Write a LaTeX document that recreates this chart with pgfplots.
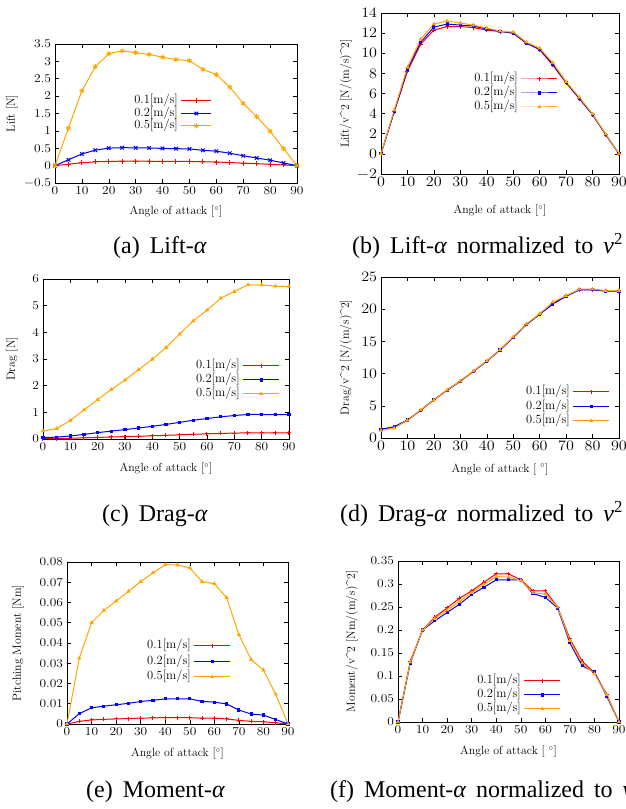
\documentclass[border=0pt]{standalone}
\usepackage{fontspec}
\usepackage{pgfplots}
\usepackage{pgfplotstable}
\pgfplotsset{compat=1.18}
\newfontfamily\capfont{Liberation Serif}
\newcommand\subcap[1]{\capfont\fontsize{24}{28}\selectfont\spaceskip=10pt\relax #1}

% angle, 0.1 m/s, 0.2 m/s, 0.5 m/s
\pgfplotstableread{
a r b o
0 0 0 0
5 0.042 0.168 1.08
10 0.082 0.336 2.15
15 0.109 0.444 2.85
20 0.123 0.504 3.22
25 0.127 0.516 3.30
30 0.127 0.512 3.25
35 0.126 0.508 3.20
40 0.123 0.496 3.12
45 0.122 0.488 3.05
50 0.120 0.480 3.02
55 0.110 0.440 2.77
60 0.104 0.416 2.62
65 0.088 0.356 2.26
70 0.071 0.284 1.79
75 0.055 0.220 1.41
80 0.039 0.156 0.99
85 0.019 0.076 0.49
90 0 0 0
}\lifttab

\pgfplotstableread{
a r b o
0 0 0 0
5 4.2 4.2 4.35
10 8.2 8.4 8.6
15 10.9 11.1 11.4
20 12.3 12.6 12.9
25 12.65 12.9 13.2
30 12.65 12.8 13.0
35 12.55 12.7 12.8
40 12.3 12.4 12.5
45 12.15 12.2 12.2
50 12.0 12.0 12.1
55 11.0 11.0 11.1
60 10.35 10.4 10.5
65 8.8 8.9 9.05
70 7.05 7.1 7.17
75 5.5 5.5 5.62
80 3.9 3.9 3.97
85 1.9 1.9 1.96
90 0 0 0
}\liftnorm

\pgfplotstableread{
a r b o
0 0.013 0.054 0.30
5 0.017 0.070 0.39
10 0.028 0.112 0.69
15 0.043 0.172 1.09
20 0.059 0.238 1.48
25 0.075 0.296 1.86
30 0.089 0.352 2.21
35 0.104 0.414 2.60
40 0.120 0.476 2.99
45 0.137 0.546 3.43
50 0.157 0.624 3.93
55 0.177 0.704 4.43
60 0.193 0.768 4.83
65 0.209 0.832 5.28
70 0.221 0.880 5.53
75 0.231 0.920 5.78
80 0.231 0.920 5.78
85 0.229 0.912 5.73
90 0.229 0.912 5.72
}\dragtab

\pgfplotstableread{
a r b o
0 1.3 1.35 1.19
5 1.65 1.75 1.55
10 2.75 2.8 2.74
15 4.3 4.3 4.35
20 5.9 5.95 5.9
25 7.45 7.4 7.45
30 8.85 8.8 8.85
35 10.4 10.35 10.4
40 11.95 11.9 11.96
45 13.7 13.65 13.7
50 15.65 15.6 15.7
55 17.65 17.6 17.7
60 19.25 19.2 19.3
65 20.9 20.8 21.1
70 22.05 22.0 22.1
75 23.05 23.0 23.1
80 23.05 23.0 23.1
85 22.85 22.8 22.9
90 22.85 22.8 22.9
}\dragnorm

\pgfplotstableread{
a r b o
0 0 0 0
5 0.0013 0.0051 0.0325
10 0.0020 0.0080 0.0500
15 0.0023 0.0088 0.0561
20 0.0025 0.0095 0.0607
25 0.0027 0.0102 0.0655
30 0.0029 0.0111 0.0703
35 0.0030 0.0117 0.0746
40 0.0032 0.0124 0.0787
45 0.0032 0.0124 0.0785
50 0.0031 0.0124 0.0771
55 0.0029 0.0112 0.0703
60 0.0029 0.0108 0.0693
65 0.0025 0.0099 0.0624
70 0.0018 0.0069 0.0441
75 0.0013 0.0049 0.0318
80 0.0011 0.0044 0.0266
85 0.0006 0.0022 0.0147
90 0 0 0
}\momtab

\pgfplotstableread{
a r b o
0 0 0 0
5 0.132 0.128 0.130
10 0.200 0.200 0.200
15 0.228 0.220 0.225
20 0.248 0.238 0.243
25 0.269 0.256 0.262
30 0.285 0.277 0.281
35 0.304 0.293 0.299
40 0.322 0.309 0.316
45 0.322 0.309 0.315
50 0.309 0.309 0.308
55 0.285 0.279 0.281
60 0.285 0.271 0.278
65 0.250 0.248 0.250
70 0.181 0.172 0.177
75 0.132 0.122 0.128
80 0.107 0.109 0.105
85 0.060 0.056 0.059
90 0 0 0
}\momnorm

\definecolor{gporange}{RGB}{255,165,0}

\tikzset{
  plotR/.style={color=red, mark=+, mark size=2pt},
  plotB/.style={color=blue, mark=square*, mark size=1.1pt},
  plotO/.style={color=gporange, mark=triangle*, mark size=1.5pt},
}

\pgfplotsset{
  panel/.style={
    scale only axis, anchor=south west,
    xmin=0, xmax=90, xtick={0,10,...,90},
    tick align=inside, major tick length=4pt,
    axis line style={line width=0.7pt},
    every tick/.style={black, line width=0.5pt},
    ticklabel style={font=\fontsize{13}{15}\selectfont, xscale=1.12},
    label style={font=\fontsize{11.8}{14}\selectfont},
    xlabel={Angle of attack [$^\circ$]},
    legend cell align=right, legend plot pos=right,
    legend style={draw=none, fill=none, anchor=north east,
      font=\fontsize{12.5}{14}\selectfont, inner sep=0pt, column sep=3pt,
      nodes={inner sep=0pt, text height=8.5pt, text depth=3pt}},
    legend image code/.code={\draw[mark repeat=2,mark phase=2]
      plot coordinates {(0pt,0pt) (18pt,0pt) (36pt,0pt)};},
    every axis plot/.append style={line width=1pt},
  },
  xlab/.style={xlabel style={at={(axis description cs:0.5,#1)}, anchor=center}},
  ylab/.style={ylabel style={at={(axis description cs:#1,0.5)}, anchor=center}},
}

\begin{document}
\begin{tikzpicture}
\path[use as bounding box] (0pt,0pt) rectangle (626pt,809pt);
\clip (0pt,0pt) rectangle (626pt,809pt);

% (a) Lift
\begin{axis}[panel, at={(55pt,626pt)}, width=242pt, height=139pt,
  ymin=-0.5, ymax=3.5, ytick={-0.5,0,...,3.5},
  ylabel={Lift [N]}, xlab=-0.209, ylab=-0.178,
  legend style={at={(0.649,0.633)}, row sep=1pt},
  legend image code/.code={\draw[mark repeat=2,mark phase=2]
      plot coordinates {(0pt,0pt) (15pt,0pt) (30pt,0pt)};}]
\addplot[color=red, mark=+, mark size=2.5pt] table[x=a,y=r] {\lifttab};
\addlegendentry{0.1[m/s]}
\addplot[color=blue, mark=x, mark size=2.5pt] table[x=a,y=b] {\lifttab};
\addlegendentry{0.2[m/s]}
\addplot[color=gporange, mark=asterisk, mark size=2.5pt] table[x=a,y=o] {\lifttab};
\addlegendentry{0.5[m/s]}
\end{axis}

% (b) Lift normalized
\begin{axis}[panel, at={(381pt,635pt)}, width=238pt, height=161pt,
  ymin=-2, ymax=14, ytick={-2,0,...,14},
  ticklabel style={font=\fontsize{14}{16}\selectfont},
  ylabel={Lift/v\textasciicircum 2 [N/(m/s)\textasciicircum 2]}, xlab=-0.230, ylab=-0.147,
  legend style={at={(0.744,0.627)}, row sep=2.5pt}]
\addplot[plotR] table[x=a,y=r] {\liftnorm};
\addlegendentry{0.1[m/s]}
\addplot[plotB] table[x=a,y=b] {\liftnorm};
\addlegendentry{0.2[m/s]}
\addplot[plotO] table[x=a,y=o] {\liftnorm};
\addlegendentry{0.5[m/s]}
\end{axis}

% (c) Drag
\begin{axis}[panel, at={(43pt,370pt)}, width=246pt, height=160pt,
  ymin=0, ymax=6, ytick={0,1,...,6},
  ylabel={Drag [N]}, xlab=-0.1875, ylab=-0.126,
  legend style={at={(0.963,0.494)}, row sep=2.5pt}]
\addplot[plotR] table[x=a,y=r] {\dragtab};
\addlegendentry{0.1[m/s]}
\addplot[plotB] table[x=a,y=b] {\dragtab};
\addlegendentry{0.2[m/s]}
\addplot[plotO] table[x=a,y=o] {\dragtab};
\addlegendentry{0.5[m/s]}
\end{axis}

% (d) Drag normalized
\begin{axis}[panel, at={(381pt,371pt)}, width=238pt, height=161pt,
  ymin=0, ymax=25, ytick={0,5,...,25},
  ticklabel style={font=\fontsize{13.5}{15}\selectfont},
  ylabel={Drag/v\textasciicircum 2 [N/(m/s)\textasciicircum 2]}, xlab=-0.193, ylab=-0.147,
  xlabel={Angle of attack [ $^\circ$]},
  legend style={at={(0.962,0.323)}, row sep=3pt}]
\addplot[plotR] table[x=a,y=r] {\dragnorm};
\addlegendentry{0.1[m/s]}
\addplot[plotB] table[x=a,y=b] {\dragnorm};
\addlegendentry{0.2[m/s]}
\addplot[plotO] table[x=a,y=o] {\dragnorm};
\addlegendentry{0.5[m/s]}
\end{axis}

% (e) Moment
\begin{axis}[panel, at={(67pt,85pt)}, width=221pt, height=162pt,
  ymin=0, ymax=0.08, ytick={0,0.01,...,0.08},
  yticklabel style={/pgf/number format/fixed, /pgf/number format/precision=2},
  scaled y ticks=false,
  ylabel={Pitching Moment [Nm]}, xlab=-0.185, ylab=-0.222,
  legend style={at={(0.742,0.519)}, row sep=4pt}]
\addplot[plotR] table[x=a,y=r] {\momtab};
\addlegendentry{0.1[m/s]}
\addplot[plotB] table[x=a,y=b] {\momtab};
\addlegendentry{0.2[m/s]}
\addplot[plotO] table[x=a,y=o] {\momtab};
\addlegendentry{0.5[m/s]}
\end{axis}

% (f) Moment normalized
\begin{axis}[panel, at={(398pt,87pt)}, width=221pt, height=161pt,
  ymin=0, ymax=0.35, ytick={0,0.05,...,0.35},
  yticklabel style={/pgf/number format/fixed, /pgf/number format/precision=2},
  scaled y ticks=false,
  ylabel={Moment/v\textasciicircum 2 [Nm/(m/s)\textasciicircum 2]}, xlab=-0.186, ylab=-0.208,
  xlabel={Angle of attack [ $^\circ$]},
  legend style={at={(0.738,0.292)}, row sep=2.5pt}]
\addplot[plotR] table[x=a,y=r] {\momnorm};
\addlegendentry{0.1[m/s]}
\addplot[plotB] table[x=a,y=b] {\momnorm};
\addlegendentry{0.2[m/s]}
\addplot[plotO] table[x=a,y=o] {\momnorm};
\addlegendentry{0.5[m/s]}
\end{axis}

% sub-captions
\begin{scope}[every node/.style={anchor=base west, inner sep=0pt}]
\node at (113pt,555pt) {\subcap{(a) Lift-{\itshape α}}};
\node at (352pt,555pt) {\subcap{(b) Lift-{\itshape α} normalized to {\itshape v}\textsuperscript{2}}};
\node at (102pt,287pt) {\subcap{(c) Drag-{\itshape α}}};
\node at (340pt,287pt) {\subcap{(d) Drag-{\itshape α} normalized to {\itshape v}\textsuperscript{2}}};
\node at (86pt,11pt) {\subcap{(e) Moment-{\itshape α}}};
\node at (330pt,11pt) {\subcap{(f) Moment-{\itshape α} normalized to {\itshape v}\textsuperscript{2}}};
\end{scope}
\end{tikzpicture}
\end{document}
